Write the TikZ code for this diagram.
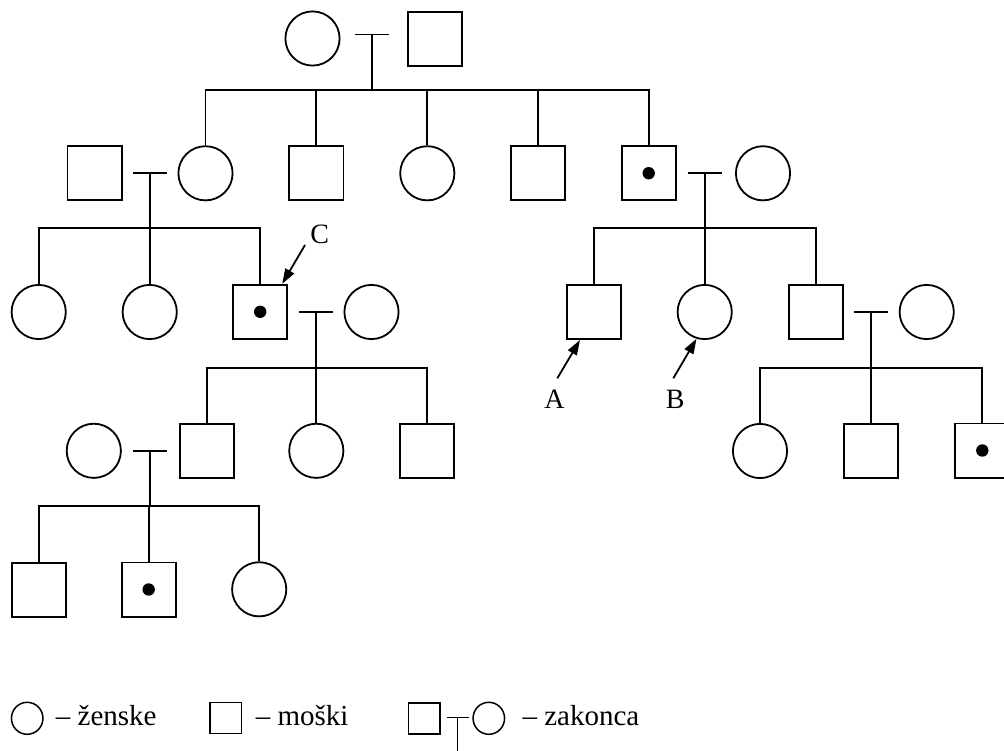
\documentclass[tikz,border=0pt]{standalone}
\usepackage{fontspec}
\setmainfont{Liberation Serif}
\usetikzlibrary{arrows.meta,shapes.geometric}
\begin{document}
\begin{tikzpicture}[x=1pt,y=-1pt,line width=1.8pt,
  male/.style={draw,rectangle,minimum size=54.2pt,inner sep=0pt},
  female/.style={draw,circle,minimum size=54.2pt,inner sep=0pt},
  carrier/.style={male,path picture={\fill (path picture bounding box.center) circle (6.2pt);}},
  lmale/.style={draw,rectangle,line width=1.5pt,minimum width=31.5pt,minimum height=31pt,inner sep=0pt},
  lfemale/.style={draw,ellipse,line width=1.5pt,minimum width=31.5pt,minimum height=32pt,inner sep=0pt},
  txt/.style={font=\fontsize{29}{34}\selectfont,inner sep=0pt},
  lbl/.style={font=\fontsize{28}{33}\selectfont,inner sep=0pt},
  arr/.style={-{Triangle[length=15pt,width=10pt]},line width=1.8pt}]
\useasboundingbox (0,0) rectangle (1004,751);
% ---------- row 1
\node[female] (f1) at (312.5,38.5) {};
\node[male]   (m1) at (434.7,38.8) {};
\coordinate (k1) at (371.7,34.5);
% ---------- row 2
\node[male]    (s21) at (94.5,173.2) {};
\node[female]  (c22) at (205.5,173.3) {};
\node[male]    (s23) at (316.3,173.2) {};
\node[female]  (c24) at (427.3,173.3) {};
\node[male]    (s25) at (538.2,173.2) {};
\node[carrier] (s26) at (648.7,173.2) {};
\node[female]  (c27) at (763,173.3) {};
\coordinate (k2) at (149.7,173.3);
\coordinate (k3) at (704.7,173.3);
% ---------- row 3
\node[female]  (c31) at (38.7,312) {};
\node[female]  (c32) at (149.7,312) {};
\node[carrier] (s33) at (260.2,311.8) {};
\node[female]  (c34) at (371.5,312) {};
\node[male]    (s35) at (593.7,312) {};
\node[female]  (c36) at (704.7,312) {};
\node[male]    (s37) at (815.7,312) {};
\node[female]  (c38) at (926.7,312) {};
\coordinate (k4) at (316,312);
\coordinate (k5) at (871,312);
% ---------- row 4
\node[female]  (c41) at (93.8,450.8) {};
\node[male]    (s42) at (206.7,450.7) {};
\node[female]  (c43) at (316.3,450.8) {};
\node[male]    (s44) at (427.2,450.7) {};
\node[female]  (c45) at (760,451) {};
\node[male]    (s46) at (871,450.7) {};
\node[carrier] (s47) at (982.3,450.5) {};
\coordinate (k6) at (149.7,450.7);
% ---------- row 5
\node[male]    (s51) at (38.7,589.7) {};
\node[carrier] (s52) at (148.7,589.5) {};
\node[female]  (c53) at (259.2,589.3) {};
% ---------- marriage bars
\foreach \k in {k1,k2,k3,k4,k5,k6}{
  \draw ([xshift=-17]\k) -- ([xshift=17]\k);
}
% ---------- descent lines
% family 1
\draw (k1) -- (k1 |- 0,90) coordinate (d1);
\draw (c22.north) -- (c22.north |- d1) -- (s26.north |- d1) -- (s26.north);
\foreach \n in {s23,c24,s25}{ \draw (\n.north) -- (\n.north |- d1); }
% family 2
\draw (k2) -- (k2 |- 0,228.3) coordinate (d2);
\draw (c31.north) -- (c31.north |- d2) -- (s33.north |- d2) -- (s33.north);
\draw (c32.north) -- (c32.north |- d2);
% family 3
\draw (k3) -- (k3 |- 0,228.3) coordinate (d3);
\draw (s35.north) -- (s35.north |- d3) -- (s37.north |- d3) -- (s37.north);
\draw (c36.north) -- (c36.north |- d3);
% family 4
\draw (k4) -- (k4 |- 0,367.7) coordinate (d4);
\draw (s42.north) -- (s42.north |- d4) -- (s44.north |- d4) -- (s44.north);
\draw (c43.north) -- (c43.north |- d4);
% family 5
\draw (k5) -- (k5 |- 0,367.7) coordinate (d5);
\draw (c45.north) -- (c45.north |- d5) -- (s47.north |- d5) -- (s47.north);
\draw (s46.north) -- (s46.north |- d5);
% family 6
\draw (k6) -- (k6 |- 0,506) coordinate (d6);
\draw (s51.north) -- (s51.north |- d6) -- (c53.north |- d6) -- (c53.north);
\draw (s52.north) -- (s52.north |- d6);
% ---------- labels and arrows
\node[lbl,anchor=base] (lC) at (319.7,243.3) {C};
\node[lbl,anchor=base] (lA) at (554.5,408.3) {A};
\node[lbl,anchor=base] (lB) at (675.3,408.3) {B};
\coordinate (aC) at (305,245);
\coordinate (aA) at (557.3,378.3);
\coordinate (aB) at (673.3,378.3);
\draw[arr] (aC) -- ([shift={(-6,0)}]s33.north east);
\draw[arr] (aA) -- ([xshift=-13.7]s35.south);
\draw[arr] (aB) -- (c36.-107);
% ---------- legend
\node[lfemale] (lf) at (27.2,718.3) {};
\node[txt,anchor=base west] (tf) at (55,725) {– ženske};
\node[lmale] (lm) at (225.8,718) {};
\node[txt,anchor=base west] (tm) at (255,725) {– moški};
\node[lmale] (lzm) at (424.3,718.3) {};
\node[lfemale] (lzf) at (488.8,718.3) {};
\coordinate (lk) at (457.3,717.7);
\draw[line width=1.5pt] ([xshift=-10.6]lk) -- ([xshift=12]lk);
\draw[line width=1.5pt] (lk) -- ++(0,40);
\node[txt,anchor=base west] (tz) at (521.7,725) {– zakonca};
\end{tikzpicture}
\end{document}
